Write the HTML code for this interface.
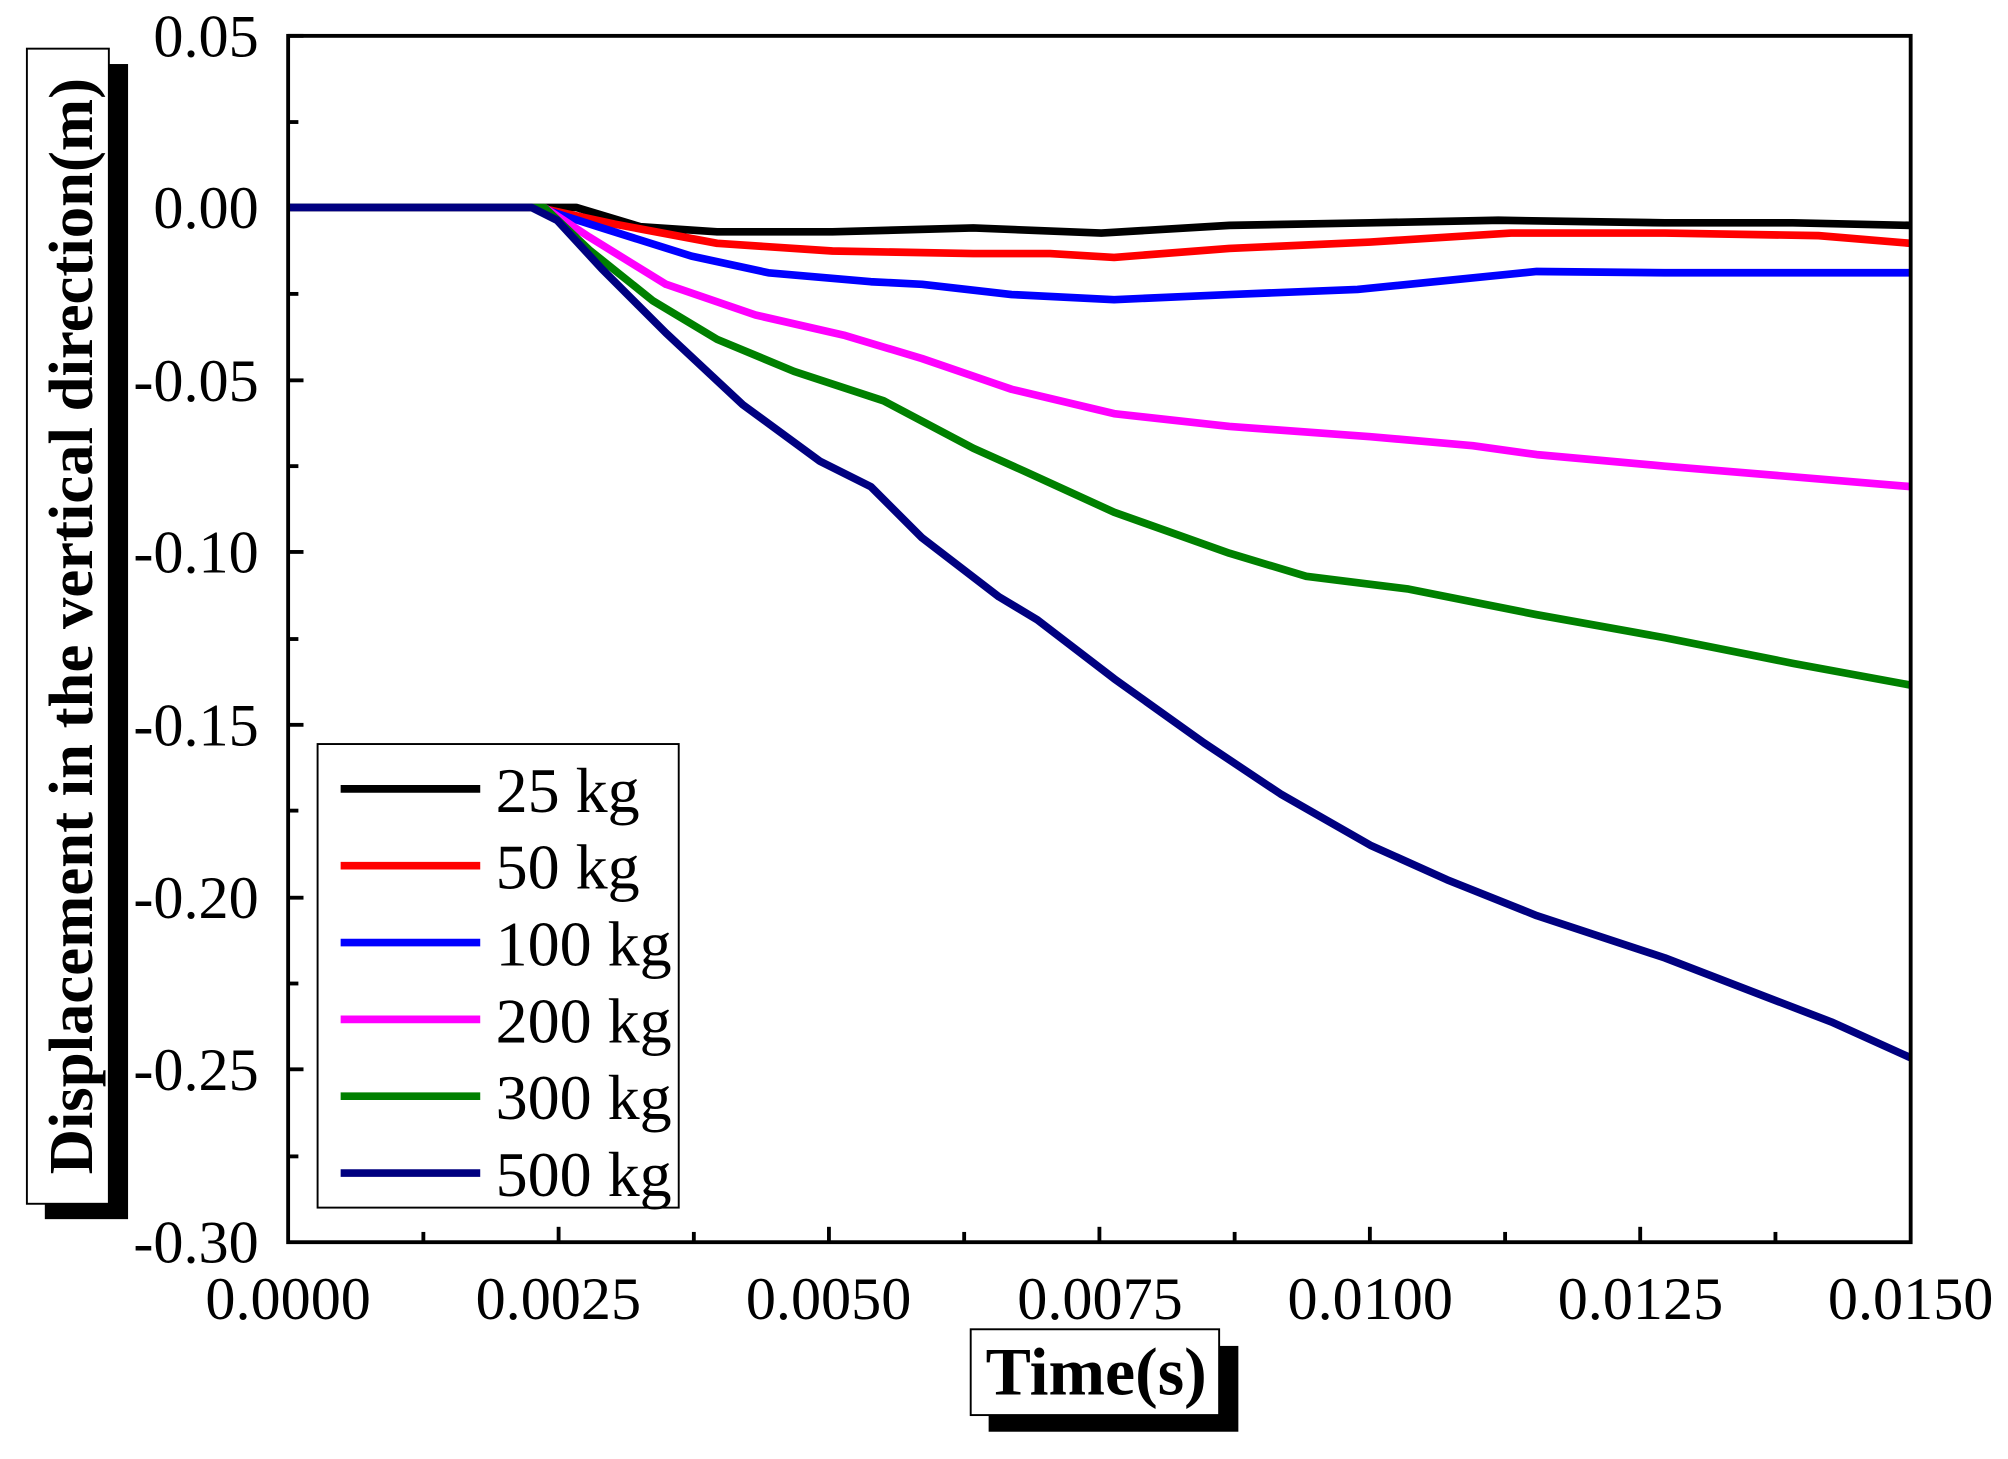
<!DOCTYPE html>
<html><head><meta charset="utf-8"><style>html,body{margin:0;padding:0;background:#fff;}svg{display:block;}</style></head>
<body>
<svg width="2008" height="1459" viewBox="0 0 1568 1139.3" xmlns="http://www.w3.org/2000/svg" font-family="Liberation Serif, serif">
<rect width="1568" height="1140" fill="#fff"/>
<!-- y title box -->
<rect x="35" y="50" width="65" height="902" fill="#000"/>
<rect x="21" y="38" width="64" height="902" fill="#fff" stroke="#000" stroke-width="1.5"/>
<text transform="translate(72,489) rotate(-90)" text-anchor="middle" font-size="49" font-weight="bold">Displacement in the vertical direction(m)</text>
<!-- x title box -->
<rect x="772" y="1051" width="195" height="67" fill="#000"/>
<rect x="758" y="1038" width="194" height="67" fill="#fff" stroke="#000" stroke-width="1.5"/>
<text x="856" y="1089" text-anchor="middle" font-size="53" font-weight="bold">Time(s)</text>
<!-- ticks -->
<g stroke="#000" stroke-width="3">
<line x1="225" y1="28" x2="237" y2="28"/><line x1="225" y1="95.3" x2="233" y2="95.3"/>
<line x1="225" y1="162" x2="237" y2="162"/><line x1="225" y1="229.5" x2="233" y2="229.5"/>
<line x1="225" y1="297" x2="237" y2="297"/><line x1="225" y1="364" x2="233" y2="364"/>
<line x1="225" y1="431" x2="237" y2="431"/><line x1="225" y1="499" x2="233" y2="499"/>
<line x1="225" y1="566" x2="237" y2="566"/><line x1="225" y1="633" x2="233" y2="633"/>
<line x1="225" y1="701" x2="237" y2="701"/><line x1="225" y1="768" x2="233" y2="768"/>
<line x1="225" y1="835" x2="237" y2="835"/><line x1="225" y1="903" x2="233" y2="903"/>
<line x1="330.6" y1="970" x2="330.6" y2="962"/><line x1="436.2" y1="970" x2="436.2" y2="958"/>
<line x1="541.8" y1="970" x2="541.8" y2="962"/><line x1="647.3" y1="970" x2="647.3" y2="958"/>
<line x1="752.9" y1="970" x2="752.9" y2="962"/><line x1="858.5" y1="970" x2="858.5" y2="958"/>
<line x1="964.1" y1="970" x2="964.1" y2="962"/><line x1="1069.7" y1="970" x2="1069.7" y2="958"/>
<line x1="1175.3" y1="970" x2="1175.3" y2="962"/><line x1="1280.8" y1="970" x2="1280.8" y2="958"/>
<line x1="1386.4" y1="970" x2="1386.4" y2="962"/>
</g>
<g font-size="47" text-anchor="end">
<text x="202" y="44">0.05</text><text x="202" y="178">0.00</text><text x="202" y="313">-0.05</text>
<text x="202" y="447">-0.10</text><text x="202" y="582">-0.15</text><text x="202" y="717">-0.20</text>
<text x="202" y="851">-0.25</text><text x="202" y="986">-0.30</text>
</g>
<g font-size="47" text-anchor="middle">
<text x="225" y="1030">0.0000</text><text x="436" y="1030">0.0025</text><text x="647" y="1030">0.0050</text>
<text x="859" y="1030">0.0075</text><text x="1070" y="1030">0.0100</text><text x="1281" y="1030">0.0125</text><text x="1492" y="1030">0.0150</text>
</g>
<!-- series -->
<g fill="none" stroke-width="6" stroke-linejoin="round" stroke-linecap="butt">
<polyline stroke="#000" points="225,162 450,162 500,177 560,181 650,181 760,178 860,182 960,176 1070,174 1170,172 1300,174 1400,174 1492,176"/>
<polyline stroke="#ff0000" points="225,162 420,162 480,175 560,190 650,196 760,198 820,198 870,201 960,194 1070,189 1180,182 1300,182 1420,184 1492,190"/>
<polyline stroke="#0000ff" points="225,162 420,162 470,178 540,200 600,213 680,220 720,222 790,230 870,234 960,230 1060,226 1200,212 1300,213 1400,213 1492,213"/>
<polyline stroke="#ff00ff" points="225,162 425,162 460,185 520,222 590,246 660,262 720,280 790,304 870,323 960,333 1070,341 1150,348 1200,355 1300,364 1492,380"/>
<polyline stroke="#008000" points="225,162 425,162 460,195 510,235 560,265 620,290 690,313 760,350 800,368 870,400 960,432 1020,450 1100,460 1200,480 1300,498 1400,518 1492,535"/>
<polyline stroke="#000080" points="225,162 415,162 435,172 470,210 520,260 580,316 640,360 680,380 720,420 780,466 810,484 870,530 940,580 1000,620 1070,660 1130,687 1200,715 1300,748 1430,798 1492,826"/>
</g>
<!-- plot frame -->
<rect x="225" y="28" width="1267" height="942" fill="none" stroke="#000" stroke-width="3"/>
<!-- legend -->
<rect x="248" y="581" width="282" height="362" fill="#fff" stroke="#000" stroke-width="1.5"/>
<g stroke-width="6">
<line x1="266" y1="616" x2="375" y2="616" stroke="#000"/>
<line x1="266" y1="676" x2="375" y2="676" stroke="#ff0000"/>
<line x1="266" y1="736" x2="375" y2="736" stroke="#0000ff"/>
<line x1="266" y1="796" x2="375" y2="796" stroke="#ff00ff"/>
<line x1="266" y1="856" x2="375" y2="856" stroke="#008000"/>
<line x1="266" y1="916" x2="375" y2="916" stroke="#000080"/>
</g>
<g font-size="50">
<text x="387" y="634">25 kg</text><text x="387" y="694">50 kg</text><text x="387" y="754">100 kg</text>
<text x="387" y="814">200 kg</text><text x="387" y="874">300 kg</text><text x="387" y="934">500 kg</text>
</g>
</svg>
</body></html>
